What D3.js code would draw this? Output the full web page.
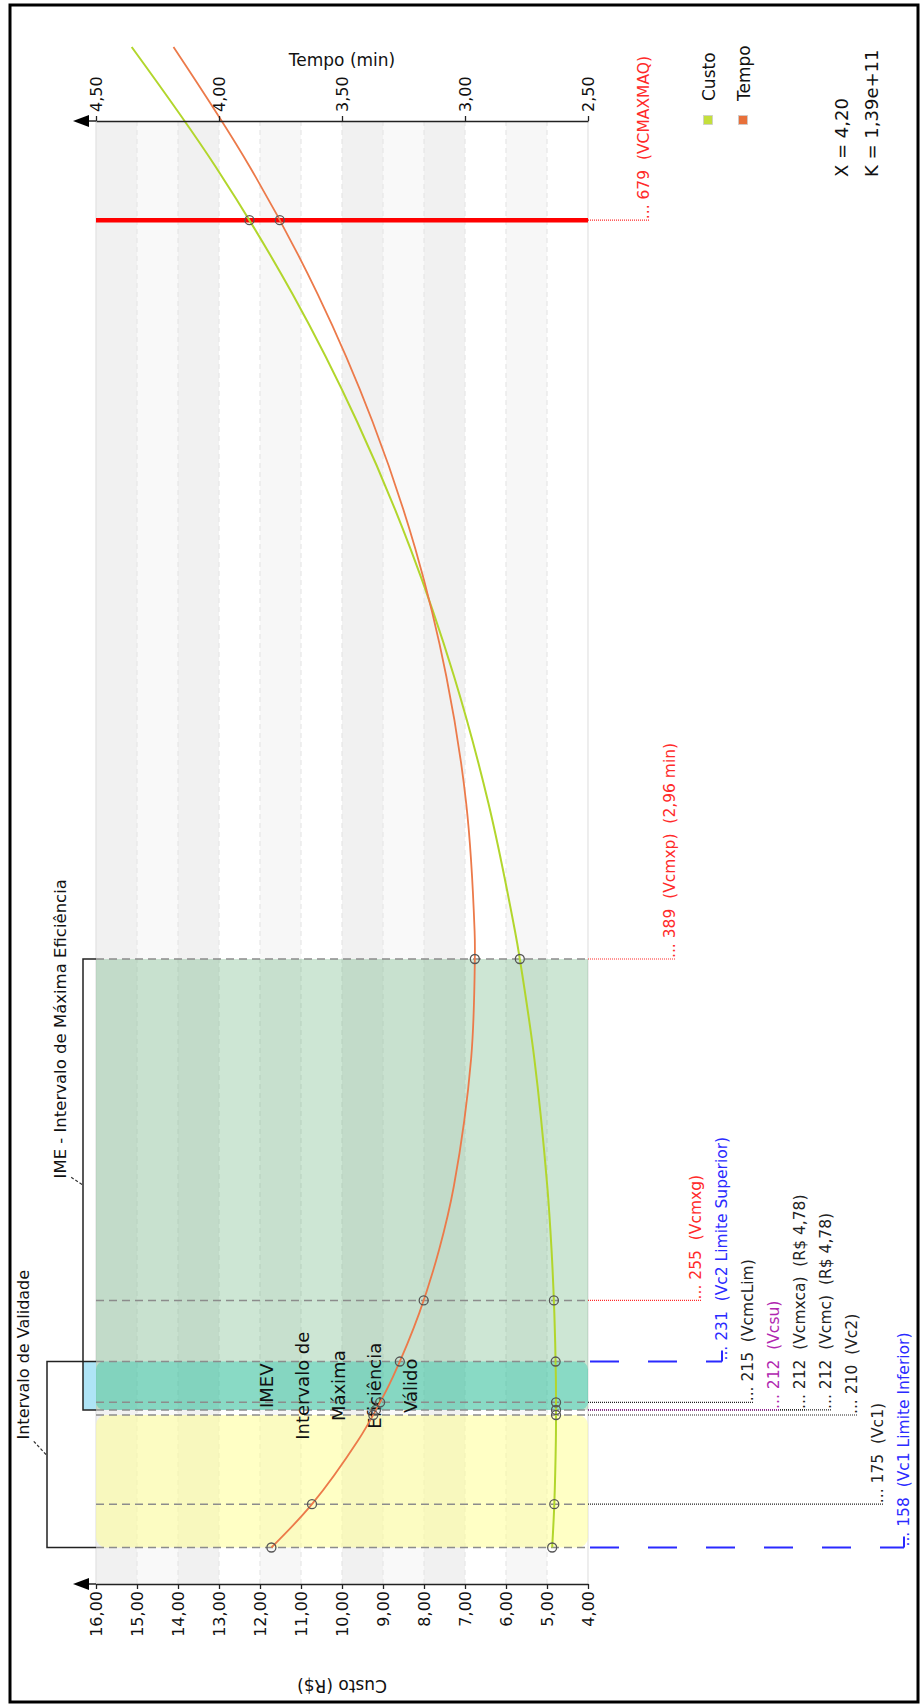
<!DOCTYPE html>
<html>
<head>
<meta charset="utf-8">
<script src="https://cdn.jsdelivr.net/npm/d3@7"></script>
<style>
  html, body { margin: 0; padding: 0; background: #fff; }
  svg { display: block; font-family: "DejaVu Sans", sans-serif; }
  text { white-space: pre; }
</style>
</head>
<body>
<svg id="chart" width="922" height="1706"></svg>
<script>
// ---- Data -------------------------------------------------------------
// Cutting speed samples (m/min) along the two curves
const speedSamples = [158, 175, 200, 212, 225, 250, 275, 300, 350, 389, 400, 450, 500, 550, 600, 650, 700, 747];
// Time per piece (min)
const tempoSamples = [3.787, 3.622, 3.435, 3.362, 3.293, 3.186, 3.105, 3.045, 2.975, 2.960, 2.961, 2.995, 3.076, 3.202, 3.376, 3.599, 3.875, 4.185];
// Cost per piece (R$)
const custoSamples = [4.874, 4.822, 4.784, 4.780, 4.784, 4.821, 4.890, 4.994, 5.310, 5.663, 5.781, 6.427, 7.268, 8.329, 9.634, 11.207, 13.082, 15.130];

// Marked speeds and the curve values at them
const markSpeeds = [158, 175, 210, 212, 215, 231, 255, 389, 679];
const markTempo  = [3.787, 3.622, 3.373, 3.362, 3.345, 3.265, 3.168, 2.96, 3.753];
const markCusto  = [4.874, 4.822, 4.780, 4.78, 4.780, 4.790, 4.832, 5.663, 12.257];

// Reference speeds with their annotations (top to bottom)
const refSpeeds = [679, 389, 255, 231, 215, 212, 212, 212, 210, 175, 158];
const refNames  = ["(VCMAXMAQ)", "(Vcmxp)  (2,96 min)", "(Vcmxg)", "(Vc2 Limite Superior)", "(VcmcLim)",
                   "(Vcsu)", "(Vcmxca)  (R$ 4,78)", "(Vcmc)  (R$ 4,78)", "(Vc2)", "(Vc1)", "(Vc1 Limite Inferior)"];
const refColors = ["#ff2a2a", "#ff2a2a", "#ff2a2a", "#2a2aff", "#222222",
                   "#b026b0", "#222222", "#222222", "#222222", "#222222", "#2a2aff"];
const refStyles = ["dotted", "dotted", "dotted", "dashed", "dotted",
                   "dotted", "dotted", "dotted", "dotted", "dotted", "dashed"];

// Speeds crossed by a grey guide line inside the plot
const guideSpeeds = [158, 175, 210, 212, 215, 231, 255, 389];
const maxMachineSpeed = 679;

// Intervals (m/min)
const validadeRange = [158, 231];
const imeRange = [212, 389];
const imevRange = [212, 231];
const vc1vc2Range = [158, 210];
const imevLines = ["IMEV", "Intervalo de", "Máxima", "Eficiência", "Válido"];

// Axes
const custoTicks = [16, 15, 14, 13, 12, 11, 10, 9, 8, 7, 6, 5, 4];
const tempoTicks = [4.5, 4.0, 3.5, 3.0, 2.5];
const custoBands = [[16, 15], [14, 13], [12, 11], [10, 9], [8, 7], [6, 5]];
const tempoBands = [[4.5, 4.0], [3.5, 3.0]];
const legendNames = ["Custo", "Tempo"];
const legendColors = ["#c4df3c", "#e8703a"];
const taylorText = ["X = 4,20", "K = 1,39e+11"];

// ---- Layout -----------------------------------------------------------
const plotLeft = 96, plotRight = 588, plotTop = 121, plotBottom = 1584;
const svg = d3.select("#chart");

const y  = d3.scaleLinear().domain([143.67, 717.94]).range([plotBottom, plotTop]); // speed
const xC = d3.scaleLinear().domain([4, 16]).range([plotRight, plotLeft]);          // cost
const xT = d3.scaleLinear().domain([2.5, 4.5]).range([plotRight, plotLeft]);       // time
const fmt = v => v.toFixed(2).replace(".", ",");

// outer frame
svg.append("rect").attr("x", 10).attr("y", 5).attr("width", 908).attr("height", 1697)
  .attr("fill", "none").attr("stroke", "#000").attr("stroke-width", 3);

// background bands
const bands = svg.append("g");
custoBands.forEach(b => bands.append("rect")
  .attr("x", xC(b[0])).attr("width", xC(b[1]) - xC(b[0]))
  .attr("y", plotTop).attr("height", plotBottom - plotTop)
  .attr("fill", "#000").attr("fill-opacity", 0.03));
tempoBands.forEach(b => bands.append("rect")
  .attr("x", xT(b[0])).attr("width", xT(b[1]) - xT(b[0]))
  .attr("y", plotTop).attr("height", plotBottom - plotTop)
  .attr("fill", "#000").attr("fill-opacity", 0.025));

// grid lines at cost ticks
const grid = svg.append("g");
custoTicks.forEach(t => grid.append("line")
  .attr("x1", xC(t)).attr("x2", xC(t)).attr("y1", plotTop).attr("y2", plotBottom)
  .attr("stroke", (t === 16 || t === 4) ? "#e2e2e2" : "#e6e6e6")
  .attr("stroke-width", 1.2)
  .attr("stroke-dasharray", (t === 16 || t === 4) ? null : "5,4"));

// shaded intervals
svg.append("rect")
  .attr("x", plotLeft).attr("width", plotRight - plotLeft)
  .attr("y", y(vc1vc2Range[1])).attr("height", y(vc1vc2Range[0]) - y(vc1vc2Range[1]))
  .attr("rx", 10).attr("fill", "#ffff8c").attr("fill-opacity", 0.5);
svg.append("rect")
  .attr("x", plotLeft).attr("width", plotRight - plotLeft)
  .attr("y", y(imeRange[1])).attr("height", y(imeRange[0]) - y(imeRange[1]))
  .attr("fill", "#3c9d5a").attr("fill-opacity", 0.26);
svg.append("rect")
  .attr("x", plotLeft).attr("width", plotRight - plotLeft)
  .attr("y", y(imevRange[1])).attr("height", y(imevRange[0]) - y(imevRange[1]))
  .attr("rx", 8).attr("fill", "#00c2a6").attr("fill-opacity", 0.33);

// brackets on the left side
svg.append("rect")
  .attr("x", 83).attr("width", plotLeft - 83)
  .attr("y", y(imevRange[1])).attr("height", y(imevRange[0]) - y(imevRange[1]))
  .attr("fill", "#aee4f6");
svg.append("path")
  .attr("d", `M${plotLeft},${y(validadeRange[1])}H47V${y(validadeRange[0])}H${plotLeft}`)
  .attr("fill", "none").attr("stroke", "#222").attr("stroke-width", 1.5);
svg.append("path")
  .attr("d", `M${plotLeft},${y(imeRange[1])}H83V${y(imeRange[0])}H${plotLeft}`)
  .attr("fill", "none").attr("stroke", "#222").attr("stroke-width", 1.5);

const valMid = (y(validadeRange[0]) + y(validadeRange[1])) / 2;
const imeMid = (y(imeRange[0]) + y(imeRange[1])) / 2;
svg.append("path").attr("d", `M46,${valMid}L33,${valMid - 14}`)
  .attr("stroke", "#333").attr("stroke-width", 1.2).attr("stroke-dasharray", "3,2").attr("fill", "none");
svg.append("path").attr("d", `M82,${imeMid}L70,${imeMid - 8}`)
  .attr("stroke", "#333").attr("stroke-width", 1.2).attr("stroke-dasharray", "3,2").attr("fill", "none");
svg.append("text").attr("transform", `translate(29,${valMid - 15}) rotate(-90)`)
  .attr("font-size", 16).attr("fill", "#111").text("Intervalo de Validade");
svg.append("text").attr("transform", `translate(66,${imeMid - 6}) rotate(-90)`)
  .attr("font-size", 16.5).attr("fill", "#111").text("IME - Intervalo de Máxima Eficiência");

// grey guide lines at reference speeds
guideSpeeds.forEach(s => svg.append("line")
  .attr("x1", plotLeft).attr("x2", plotRight).attr("y1", y(s)).attr("y2", y(s))
  .attr("stroke", "#8c8c8c").attr("stroke-width", 1.5).attr("stroke-dasharray", "8,5"));

// maximum machine speed
svg.append("line")
  .attr("x1", plotLeft).attr("x2", plotRight).attr("y1", y(maxMachineSpeed)).attr("y2", y(maxMachineSpeed))
  .attr("stroke", "#ff0000").attr("stroke-width", 4.5);

// IMEV caption
const imevMid = y((imevRange[0] + imevRange[1]) / 2);
const midX = (plotLeft + plotRight) / 2;
imevLines.forEach((t, i) => svg.append("text")
  .attr("transform", `translate(${midX + 3 + (i - 2) * 36},${imevMid}) rotate(-90)`)
  .attr("text-anchor", "middle").attr("font-size", 18).attr("fill", "#111").text(t));

// curves
const tempoLine = d3.line().x(d => xT(d[1])).y(d => y(d[0])).curve(d3.curveCatmullRom);
const custoLine = d3.line().x(d => xC(d[1])).y(d => y(d[0])).curve(d3.curveCatmullRom);
svg.append("path").datum(speedSamples.map((s, i) => [s, custoSamples[i]]))
  .attr("d", custoLine).attr("fill", "none").attr("stroke", "#b2d62c").attr("stroke-width", 2);
svg.append("path").datum(speedSamples.map((s, i) => [s, tempoSamples[i]]))
  .attr("d", tempoLine).attr("fill", "none").attr("stroke", "#ec7a4a").attr("stroke-width", 1.8);

// markers
markSpeeds.forEach((s, i) => {
  svg.append("circle").attr("cx", xC(markCusto[i])).attr("cy", y(s)).attr("r", 4.5)
    .attr("fill", "none").attr("stroke", "#555").attr("stroke-width", 1.3);
  svg.append("circle").attr("cx", xT(markTempo[i])).attr("cy", y(s)).attr("r", 4.5)
    .attr("fill", "none").attr("stroke", "#555").attr("stroke-width", 1.3);
});

// ---- Axes -------------------------------------------------------------
const gC = svg.append("g").attr("transform", `translate(0,${plotBottom})`)
  .call(d3.axisBottom(xC).tickValues(custoTicks).tickSize(5).tickSizeOuter(0).tickFormat(fmt));
const gT = svg.append("g").attr("transform", `translate(0,${plotTop})`)
  .call(d3.axisTop(xT).tickValues(tempoTicks).tickSize(5).tickSizeOuter(0).tickFormat(fmt));
[gC, gT].forEach(g => {
  g.attr("font-family", null).attr("font-size", null);
  g.select(".domain").attr("stroke", "#222").attr("stroke-width", 1.5);
  g.selectAll(".tick line").attr("stroke", "#222").attr("stroke-width", 1.3);
});
gC.selectAll(".tick text").attr("transform", "rotate(-90)").attr("text-anchor", "end")
  .attr("x", -7).attr("y", 0).attr("dy", "0.35em").attr("font-size", 16).attr("fill", "#111");
gT.selectAll(".tick text").attr("transform", "rotate(-90)").attr("text-anchor", "start")
  .attr("x", 9).attr("y", 0).attr("dy", "0.35em").attr("font-size", 16).attr("fill", "#111");
[plotBottom, plotTop].forEach(ay => {
  svg.append("line").attr("x1", 86).attr("x2", plotLeft).attr("y1", ay).attr("y2", ay)
    .attr("stroke", "#222").attr("stroke-width", 1.5);
  svg.append("path").attr("d", `M73,${ay}L89,${ay - 6}L89,${ay + 6}Z`).attr("fill", "#000");
});
svg.append("text").attr("x", midX).attr("y", 66).attr("text-anchor", "middle")
  .attr("font-size", 17).attr("fill", "#111").text("Tempo (min)");
svg.append("text").attr("transform", `translate(${midX},1680) rotate(180)`).attr("text-anchor", "middle")
  .attr("font-size", 17).attr("fill", "#111").text("Custo (R$)");

// ---- Reference annotations -------------------------------------------
const refG = svg.append("g");
for (let i = refSpeeds.length - 1; i >= 0; i--) {
  const s = refSpeeds[i], ly = y(s), bx = 649 + 26 * i, c = refColors[i];
  if (refStyles[i] === "dashed") {
    refG.append("line").attr("x1", plotRight + 2).attr("x2", bx - 5).attr("y1", ly).attr("y2", ly)
      .attr("stroke", c).attr("stroke-width", 2).attr("stroke-dasharray", "29,29");
    refG.append("line").attr("x1", bx - 5).attr("x2", bx - 5).attr("y1", ly).attr("y2", ly - 11)
      .attr("stroke", c).attr("stroke-width", 2);
  } else {
    refG.append("line").attr("x1", plotRight).attr("x2", bx).attr("y1", ly).attr("y2", ly)
      .attr("stroke", c).attr("stroke-width", 1.2).attr("stroke-dasharray", "1,1");
  }
  refG.append("text").attr("transform", `translate(${bx},${ly - 1}) rotate(-90)`)
    .attr("font-size", 15.5).attr("fill", c)
    .text("... " + s + "\u00a0\u00a0" + refNames[i]);
}

// ---- Legend and Taylor constants -------------------------------------
const legendX = [708, 743];
legendNames.forEach((n, i) => {
  svg.append("rect").attr("x", legendX[i] - 4.5).attr("y", 115.5).attr("width", 9).attr("height", 9)
    .attr("fill", legendColors[i]).attr("stroke", "#ccc").attr("stroke-width", 0.8);
  svg.append("text").attr("transform", `translate(${legendX[i] + 6.5},101) rotate(-90)`)
    .attr("font-size", 17).attr("fill", "#111").text(n);
});
const taylorX = [848, 878];
taylorText.forEach((t, i) => svg.append("text")
  .attr("transform", `translate(${taylorX[i]},177) rotate(-90)`)
  .attr("font-size", 18).attr("fill", "#111").text(t));
</script>
</body>
</html>
